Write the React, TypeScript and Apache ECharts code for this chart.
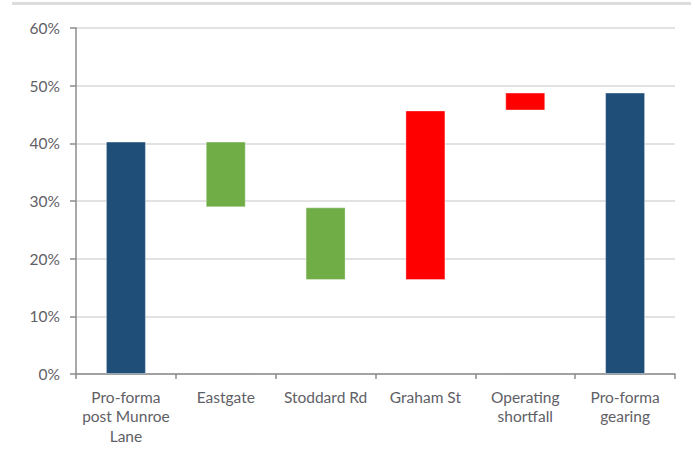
import React, { useEffect, useRef } from "react";
import * as echarts from "echarts";

// Waterfall of gearing movements (percent of asset value)
const categories = [
  "Pro-forma\npost Munroe\nLane",
  "Eastgate",
  "Stoddard Rd",
  "Graham St",
  "Operating\nshortfall",
  "Pro-forma\ngearing",
];
// lower and upper edge of each floating bar, in %
const barBottoms = [0, 28.9, 16.3, 16.3, 45.7, 0];
const barTops = [40.3, 40.3, 28.9, 45.7, 48.8, 48.8];
const barColors = ["#1F4E79", "#70AD47", "#70AD47", "#FF0000", "#FF0000", "#1F4E79"];
const yTicks = { min: 0, max: 60, interval: 10 };

export default function App() {
  const ref = useRef<HTMLDivElement>(null);

  useEffect(() => {
    document.body.style.margin = "0";
    const chart = echarts.init(ref.current!, undefined, { renderer: "svg" });
    const font = "Lato, 'Noto Sans', sans-serif";
    chart.setOption({
      animation: false,
      backgroundColor: "#ffffff",
      grid: { left: 76, right: 18, top: 28, bottom: 81, containLabel: false },
      graphic: [
        {
          type: "rect",
          shape: { x: 12, y: 2, width: 679, height: 3 },
          style: { fill: "#dcdcdc" },
          silent: true,
        },
      ],
      xAxis: {
        type: "category",
        data: categories,
        boundaryGap: true,
        axisLine: { lineStyle: { color: "#8c8c8c", width: 1.5 } },
        axisTick: { show: true, length: 5, alignWithLabel: false, lineStyle: { color: "#8c8c8c", width: 1.5 } },
        axisLabel: {
          color: "#5f6066",
          fontSize: 15.5,
          fontFamily: font,
          lineHeight: 19.5,
          margin: 13,
          interval: 0,
        },
      },
      yAxis: {
        type: "value",
        min: yTicks.min,
        max: yTicks.max,
        interval: yTicks.interval,
        axisLine: { show: true, lineStyle: { color: "#8c8c8c", width: 1.5 } },
        axisTick: { show: true, length: 6, lineStyle: { color: "#8c8c8c", width: 1.5 } },
        axisLabel: {
          color: "#5f6066",
          fontSize: 15.5,
          fontFamily: font,
          margin: 16,
          formatter: (v: number) => `${v}%`,
        },
        splitLine: { show: true, lineStyle: { color: "#d9d9d9", width: 1.5 } },
      },
      series: [
        {
          type: "bar",
          stack: "wf",
          silent: true,
          itemStyle: { color: "transparent" },
          data: barBottoms,
          barWidth: 40,
        },
        {
          type: "bar",
          stack: "wf",
          barWidth: 40,
          data: barTops.map((t, i) => ({
            value: +(t - barBottoms[i]).toFixed(2),
            itemStyle: { color: barColors[i], borderColor: "rgba(255,255,255,0.35)", borderWidth: 1 },
          })),
        },
      ],
    });
    return () => chart.dispose();
  }, []);

  return <div ref={ref} style={{ width: 693, height: 455 }} />;
}
